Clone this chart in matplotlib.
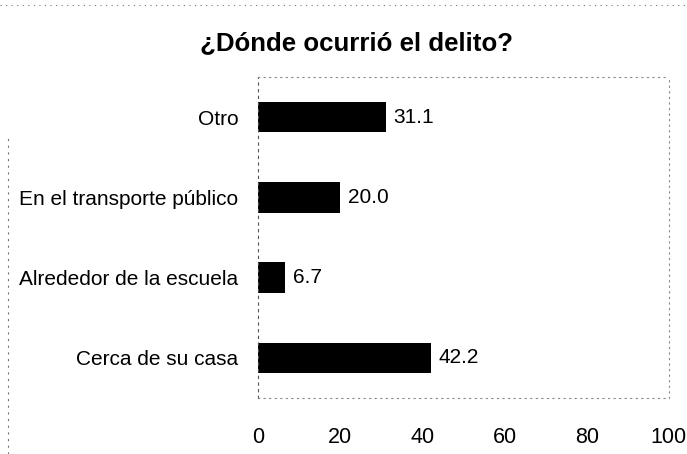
import matplotlib
matplotlib.use("Agg")
import matplotlib.pyplot as plt
from matplotlib.lines import Line2D

categories = ["Cerca de su casa", "Alrededor de la escuela", "En el transporte público", "Otro"]
values = [42.2, 6.7, 20.0, 31.1]
xticks = [0, 20, 40, 60, 80, 100]
title = "¿Dónde ocurrió el delito?"

plt.rcParams['font.family'] = ['Liberation Sans Narrow', 'Liberation Sans', 'DejaVu Sans']

fig = plt.figure(figsize=(6.87, 4.54), dpi=100)
ax = fig.add_axes([0.3755, 0.1233, 0.598, 0.7071])

y = range(len(categories))
ax.barh(y, values, height=0.38, color="black")
for yi, v in zip(y, values):
    ax.text(v + 1.8, yi, f"{v:.1f}", va="center", ha="left", fontsize=15)

ax.set_xlim(0, 100)
ax.set_ylim(-0.5, len(categories) - 0.5)
ax.set_xticks(xticks)
ax.set_xticklabels([str(t) for t in xticks], fontsize=15.5)
ax.set_yticks(list(y))
ax.set_yticklabels(categories, fontsize=15)
ax.tick_params(axis="x", length=0, pad=21)
ax.tick_params(axis="y", length=0, pad=14)

for s in ["top", "right", "bottom"]:
    ax.spines[s].set_linestyle((0, (1, 4)))
    ax.spines[s].set_color("#888888")
    ax.spines[s].set_linewidth(0.8)
ax.spines["left"].set_linestyle((0, (2, 4)))
ax.spines["left"].set_color("#555555")
ax.spines["left"].set_linewidth(0.8)

fig.text(0.519, 0.905, title, ha="center", va="center", fontsize=18.6, fontweight="bold")

# outer dotted chart border
fig.add_artist(Line2D([0.0, 1.0], [0.99, 0.99], transform=fig.transFigure,
                      color="#777777", linestyle=(0, (1, 4)), linewidth=0.8))
fig.add_artist(Line2D([0.012, 0.012], [0.0, 0.7], transform=fig.transFigure,
                      color="#777777", linestyle=(0, (2, 4)), linewidth=0.8))

fig.savefig("out.png", dpi=100)
